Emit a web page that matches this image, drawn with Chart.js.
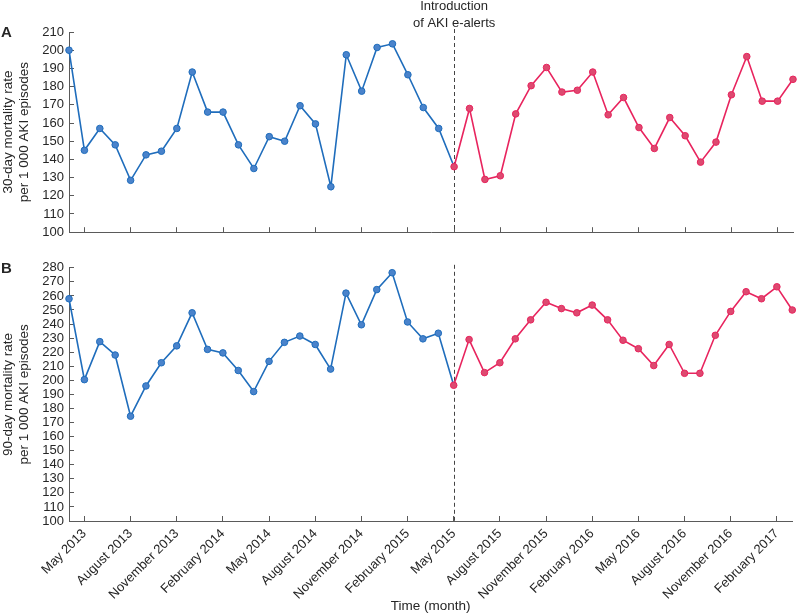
<!DOCTYPE html>
<html>
<head>
<meta charset="utf-8">
<script src="https://cdn.jsdelivr.net/npm/chart.js@4.4.0/dist/chart.umd.min.js"></script>
<style>
  html, body { margin: 0; padding: 0; background: #fff; }
  #wrap { position: relative; width: 798px; height: 614px; }
  canvas { position: absolute; left: 0; }
  #panelA { top: 0; }
  #panelB { top: 250px; }
</style>
</head>
<body>
<div id="wrap">
  <canvas id="panelA" width="798" height="250"></canvas>
  <canvas id="panelB" width="798" height="364"></canvas>
</div>
<script>
const months = [
  "April 2013", "May 2013", "June 2013", "July 2013", "August 2013", "September 2013",
  "October 2013", "November 2013", "December 2013",
  "January 2014", "February 2014", "March 2014", "April 2014", "May 2014", "June 2014",
  "July 2014", "August 2014", "September 2014", "October 2014", "November 2014", "December 2014",
  "January 2015", "February 2015", "March 2015", "April 2015", "May 2015", "June 2015",
  "July 2015", "August 2015", "September 2015", "October 2015", "November 2015", "December 2015",
  "January 2016", "February 2016", "March 2016", "April 2016", "May 2016", "June 2016",
  "July 2016", "August 2016", "September 2016", "October 2016", "November 2016", "December 2016",
  "January 2017", "February 2017", "March 2017",
];

const tickMonths = [
  "May 2013", "August 2013", "November 2013", "February 2014", "May 2014", "August 2014",
  "November 2014", "February 2015", "May 2015", "August 2015", "November 2015",
  "February 2016", "May 2016", "August 2016", "November 2016", "February 2017",
];

const alertMonth = "May 2015";

// 30-day mortality per 1 000 AKI episodes
const rate30Before = [
  200, 145, 157, 148, 128.5, 142.5, 144.5, 157, 188, 166, 166, 148, 135,
  152.5, 150, 169.5, 159.5, 125, 197.5, 177.5, 201.5, 203.5, 186.5, 168.5, 157,
];
const rate30After = [
  136, 168, 129, 131, 165, 180.5, 190.5, 177, 178, 188, 164.5, 174,
  157.5, 146, 163, 153, 138.5, 149.5, 175.5, 196.5, 172, 172, 184,
];

// 90-day mortality per 1 000 AKI episodes
const rate90Before = [
  258, 200.5, 227.5, 218, 174.5, 196, 212.5, 224.5, 248, 222, 219.5, 207, 192,
  213.5, 227, 231.5, 225.5, 208, 262, 239.5, 264.5, 276.5, 241.5, 229.5, 233.5,
];
const rate90After = [
  196.5, 229, 205.5, 212.5, 229.5, 243, 255.5, 251, 248, 253.5, 243, 228.5,
  222.5, 210.5, 225.5, 205, 205, 232, 249, 263, 258, 266.5, 250,
];

const blue = "#1f6dbc";
const bluePoint = "#4a83cb";
const red = "#e8245e";
const redPoint = "#dd4a70";
const axisColor = "#5a5a5a";
const textColor = "#262626";
const fontFamily = '"Liberation Sans", Arial, Helvetica, sans-serif';

Chart.defaults.font.family = fontFamily;
Chart.defaults.color = textColor;

const alertIdx = months.indexOf(alertMonth);
const tickIdx = tickMonths.map(m => months.indexOf(m));

// pre-alert line runs on to the first post-alert month
function beforeSeries(before, after) {
  return [...before, after[0]].concat(Array(months.length - before.length - 1).fill(null));
}
function afterSeries(after) {
  return Array(months.length - after.length).fill(null).concat(after);
}

const alertLine = {
  id: "alertLine",
  beforeDatasetsDraw(chart) {
    const { ctx, chartArea, scales } = chart;
    const x = Math.round(scales.x.getPixelForValue(alertIdx)) + 0.5;
    ctx.save();
    ctx.strokeStyle = "#444";
    ctx.lineWidth = 1;
    ctx.setLineDash([4, 3]);
    ctx.beginPath();
    ctx.moveTo(x, chartArea.top - 3);
    ctx.lineTo(x, chartArea.bottom);
    ctx.stroke();
    ctx.restore();
  },
  afterDraw(chart, args, opts) {
    const { ctx, chartArea, scales } = chart;
    ctx.save();
    ctx.fillStyle = textColor;
    ctx.font = "bold 15px " + fontFamily;
    ctx.textBaseline = "middle";
    ctx.fillText(opts.letter, 1, chartArea.top + 1);
    if (opts.note) {
      const x = scales.x.getPixelForValue(alertIdx);
      ctx.font = "13px " + fontFamily;
      ctx.textAlign = "center";
      ctx.textBaseline = "alphabetic";
      opts.note.forEach((line, i) => ctx.fillText(line, x, 10 + i * 17));
    }
    ctx.restore();
  },
};

function makePanel(id, before, after, yMin, yMax, yTitle, showX, letter, note, padTop) {
  return new Chart(document.getElementById(id), {
    type: "line",
    data: {
      labels: months,
      datasets: [
        {
          data: afterSeries(after),
          borderColor: red,
          backgroundColor: redPoint,
          pointBackgroundColor: redPoint,
          pointBorderColor: red,
          borderWidth: 1.6,
          pointRadius: 3.3,
          pointBorderWidth: 1,
          clip: false,
        },
        {
          data: beforeSeries(before, after),
          borderColor: blue,
          backgroundColor: bluePoint,
          pointBackgroundColor: bluePoint,
          pointBorderColor: blue,
          borderWidth: 1.6,
          pointRadius: c => (c.dataIndex === alertIdx ? 0 : 3.3),
          pointBorderWidth: 1,
          clip: false,
        },
      ],
    },
    options: {
      responsive: false,
      animation: false,
      events: [],
      layout: { padding: { top: padTop, right: 3, left: 0, bottom: 0 } },
      plugins: {
        legend: { display: false },
        tooltip: { enabled: false },
        alertLine: { letter, note },
      },
      scales: {
        x: {
          type: "category",
          offset: false,
          border: { color: axisColor, width: 1 },
          grid: { drawOnChartArea: false, tickLength: -5, color: axisColor },
          afterBuildTicks: axis => { axis.ticks = tickIdx.map(v => ({ value: v })); },
          ticks: {
            autoSkip: false,
            minRotation: 45,
            maxRotation: 45,
            display: showX,
            padding: 10,
            font: { size: 13 },
            color: textColor,
          },
          title: {
            display: showX,
            text: "Time (month)",
            font: { size: 13.5 },
            padding: { top: 0, bottom: 0 },
            color: textColor,
          },
          afterFit: s => { s.height = showX ? 93 : 8; },
        },
        y: {
          min: yMin,
          max: yMax,
          border: { color: axisColor, width: 1 },
          grid: { drawOnChartArea: false, tickLength: -5, color: axisColor },
          ticks: { stepSize: 10, autoSkip: false, padding: 10, font: { size: 13 }, color: textColor },
          title: { display: true, text: yTitle, font: { size: 13.5, lineHeight: 1.22 }, padding: 0, color: textColor },
          afterFit: s => { s.width = 69; },
        },
      },
    },
    plugins: [alertLine],
  });
}

makePanel("panelA", rate30Before, rate30After, 100, 210,
  ["30-day mortality rate", "per 1 000 AKI episodes"], false, "A",
  ["Introduction", "of AKI e-alerts"], 32);

makePanel("panelB", rate90Before, rate90After, 100, 280,
  ["90-day mortality rate", "per 1 000 AKI episodes"], true, "B", null, 14);
</script>
</body>
</html>
